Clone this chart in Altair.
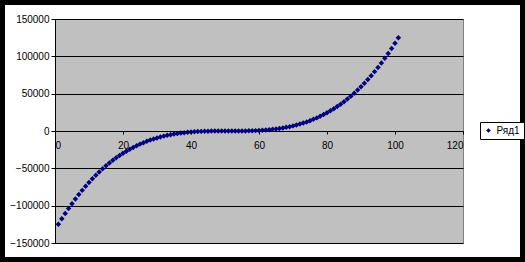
import altair as alt
import pandas as pd

x_values = [1, 2, 3, 4, 5, 6, 7, 8, 9, 10, 11, 12, 13, 14, 15, 16, 17, 18, 19, 20,
            21, 22, 23, 24, 25, 26, 27, 28, 29, 30, 31, 32, 33, 34, 35, 36, 37, 38, 39, 40,
            41, 42, 43, 44, 45, 46, 47, 48, 49, 50, 51, 52, 53, 54, 55, 56, 57, 58, 59, 60,
            61, 62, 63, 64, 65, 66, 67, 68, 69, 70, 71, 72, 73, 74, 75, 76, 77, 78, 79, 80,
            81, 82, 83, 84, 85, 86, 87, 88, 89, 90, 91, 92, 93, 94, 95, 96, 97, 98, 99, 100, 101]

y_values = [-125000, -117649, -110592, -103823, -97336, -91125, -85184, -79507, -74088, -68921,
            -64000, -59319, -54872, -50653, -46656, -42875, -39304, -35937, -32768, -29791,
            -27000, -24389, -21952, -19683, -17576, -15625, -13824, -12167, -10648, -9261,
            -8000, -6859, -5832, -4913, -4096, -3375, -2744, -2197, -1728, -1331,
            -1000, -729, -512, -343, -216, -125, -64, -27, -8, -1,
            0,
            1, 8, 27, 64, 125, 216, 343, 512, 729, 1000,
            1331, 1728, 2197, 2744, 3375, 4096, 4913, 5832, 6859, 8000,
            9261, 10648, 12167, 13824, 15625, 17576, 19683, 21952, 24389, 27000,
            29791, 32768, 35937, 39304, 42875, 46656, 50653, 54872, 59319, 64000,
            68921, 74088, 79507, 85184, 91125, 97336, 103823, 110592, 117649, 125000]

series_name = "Ряд1"

df = pd.DataFrame({"x": x_values, "y": y_values, "series": [series_name] * len(x_values)})

FONT = "Liberation Sans"
W, H = 408, 224

points = alt.Chart(df).mark_point(shape="diamond", filled=True, size=30, opacity=1).encode(
    x=alt.X("x:Q", scale=alt.Scale(domain=[0, 120], nice=False),
            axis=alt.Axis(values=[0, 20, 40, 60, 80, 100, 120], title=None, grid=False,
                          offset=-112, domainColor="black", tickColor="black", tickSize=3,
                          labelPadding=6, labelFont=FONT, labelFontSize=10, labelColor="black",
                          zindex=1)),
    y=alt.Y("y:Q", scale=alt.Scale(domain=[-150000, 150000], nice=False),
            axis=alt.Axis(values=[-150000, -100000, -50000, 0, 50000, 100000, 150000], format="d",
                          title=None, grid=True, gridColor="black", gridOpacity=1,
                          domainColor="black", tickColor="black", tickSize=4, labelPadding=2,
                          labelFont=FONT, labelFontSize=10, labelColor="black")),
    color=alt.Color("series:N", scale=alt.Scale(range=["#000080"]),
                    legend=alt.Legend(title=None, orient="none", legendX=425, legendY=103,
                                      symbolType="diamond", symbolSize=22, labelFont=FONT,
                                      labelFontSize=10, labelColor="black", strokeColor="black",
                                      fillColor="white", padding=3.5, labelOffset=3,
                                      cornerRadius=0)),
)

frame = alt.Chart(df).mark_rect(filled=False, stroke="black", strokeWidth=5).encode(
    x=alt.value(-52.5), x2=alt.value(468), y=alt.value(-16.5), y2=alt.value(241)
)

chart = alt.layer(points, frame).properties(
    width=W, height=H,
    autosize=alt.AutoSizeParams(type="none"),
    padding={"left": 55, "top": 19, "right": 525 - 55 - W, "bottom": 262 - 19 - H},
    background="white",
).configure_view(fill="#C0C0C0", stroke="#808080", strokeWidth=1)

chart.save("out.html", embed_options={"renderer": "svg", "actions": False})
